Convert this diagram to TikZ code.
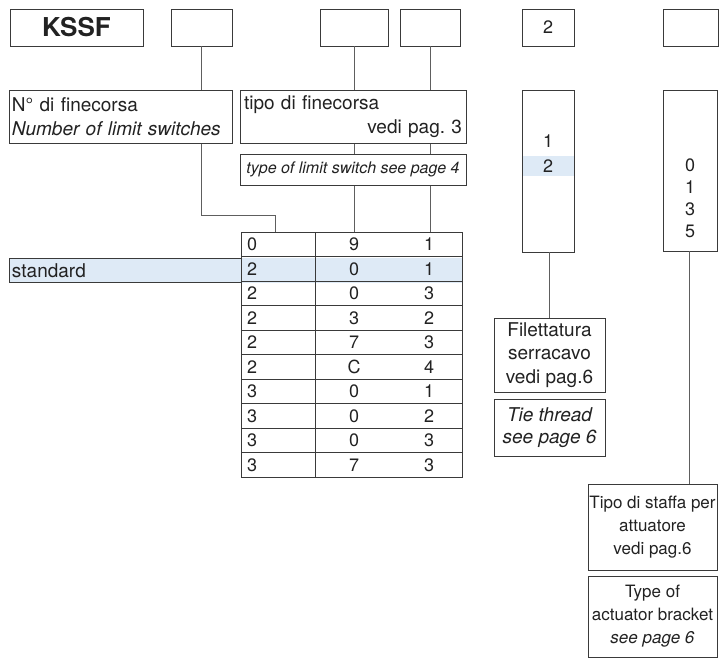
\documentclass[tikz,border=0pt]{standalone}
\usepackage{fontspec}
\setmainfont{TeX Gyre Heros}
\definecolor{boxc}{HTML}{3A3A3A}
\definecolor{linec}{HTML}{5E5E5E}
\definecolor{hl}{HTML}{DEEAF6}
\definecolor{txt}{HTML}{222222}
\newcommand{\mtxt}{\fontsize{19}{23.5}\selectfont}
\newcommand{\stxt}{\fontsize{17}{23}\selectfont}
\newcommand{\ttxt}{\fontsize{18}{22}\selectfont}
\begin{document}
\frenchspacing
\begin{tikzpicture}[x=1pt,y=-1pt,
  box/.style={draw=boxc, line width=0.9pt, fill=white, inner sep=0pt, outer sep=0pt, font=\mtxt, text=txt},
  conn/.style={draw=linec, line width=0.9pt},
  cell/.style={font=\ttxt, inner sep=0pt, text=txt}]
\useasboundingbox (0,0) rectangle (720,657);

% top code boxes
\node[box, minimum width=133, minimum height=37, font=\fontsize{26}{28}\selectfont\bfseries] (kssf) at (76.5,27.5) {KSSF};
\node[box, minimum width=61, minimum height=37] (b2) at (201.5,27.5) {};
\node[box, minimum width=68, minimum height=37] (b3) at (354,27.5) {};
\node[box, minimum width=60, minimum height=37] (b4) at (430,27.5) {};
\node[box, minimum width=52, minimum height=37, font=\ttxt] (b5) at (548,27.5) {2};
\node[box, minimum width=55, minimum height=37] (b6) at (690.5,27.5) {};

% table
\node[draw=none, minimum width=221, minimum height=245, inner sep=0pt, outer sep=0pt] (tab) at (351.5,354.5) {};
\fill[hl] (9,258) rectangle (462,282.5);
\foreach \k in {1,...,9} \draw[boxc, line width=0.9pt] (241,{232+24.5*\k}) -- (462,{232+24.5*\k});
\draw[boxc, line width=0.9pt] (315,232) -- (315,477);
\draw[boxc, line width=0.9pt] (tab.north west) rectangle (tab.south east);
\foreach \a/\b/\c [count=\i from 0] in {0/9/1, 2/0/1, 2/0/3, 2/3/2, 2/7/3, 2/C/4, 3/0/1, 3/0/2, 3/0/3, 3/7/3} {
  \node[cell, anchor=west] (ra\i) at (247,{244.25+24.5*\i}) {\a};
  \node[cell] (rb\i) at (354,{244.25+24.5*\i}) {\b};
  \node[cell] (rc\i) at (429,{244.25+24.5*\i}) {\c};
}
\node[box, fill=hl, minimum width=232, minimum height=24.5, text width=226, align=left, font=\fontsize{19}{22}\selectfont] (std) at (125,270.25) {standard};

% connectors
\draw[conn] (b2.south) -- (201.5,90);
\draw[conn] (201.5,143) -- (201.5,215) -- (275,215) -- (275,232);
\draw[conn] (b3.south) -- (b3.south |- tab.north);
\draw[conn] (b4.south) -- (b4.south |- tab.north);

% description boxes
\node[box, minimum width=223, minimum height=53, text width=217, align=left] (nbox) at (120.5,116.5)
  {N° di finecorsa\\\textit{Number of limit switches}};
\node[box, minimum width=226, minimum height=53, text width=218, align=left] (tbox) at (353,116.5)
  {tipo di finecorsa\\\makebox[218pt][r]{vedi pag. 3}};
\node[box, minimum width=226, minimum height=31, font=\fontsize{16}{18}\selectfont\itshape] (ybox) at (353,169.5)
  {type of limit switch see page 4};

% column for 2
\node[box, minimum width=52, minimum height=162] (c5) at (548,171) {};
\fill[hl] (522.5,156) rectangle (573.5,176);
\node[cell] (c5a) at (548,141) {1};
\node[cell] (c5b) at (548,166) {2};

% right column
\node[box, minimum width=54, minimum height=161] (c6) at (690,170.5) {};
\node[cell] (c6a) at (690,165) {0};
\node[cell] (c6b) at (690,187) {1};
\node[cell] (c6c) at (690,209) {3};
\node[cell] (c6d) at (690,231) {5};

% lower boxes
\node[box, minimum width=111, minimum height=74, align=center] (fil) at (549.5,355)
  {Filettatura\\serracavo\\vedi pag.6};
\node[box, minimum width=111, minimum height=57, align=center, font=\fontsize{19}{21.5}\selectfont\itshape] (tie) at (549.5,427.5)
  {Tie thread\\see page 6};
\node[box, minimum width=129, minimum height=86, align=center, font=\stxt] (staf) at (652.5,527)
  {Tipo di staffa per\\attuatore\\vedi pag.6};
\node[box, minimum width=129, minimum height=81, align=center, font=\stxt] (act) at (652.5,616.5)
  {Type of\\actuator bracket\\\textit{see page 6}};

\draw[conn] (c5.south -| fil.north) -- (fil.north);
\draw[conn] (689,251) coordinate (c6s) -- (c6s |- staf.north);
\end{tikzpicture}
\end{document}
